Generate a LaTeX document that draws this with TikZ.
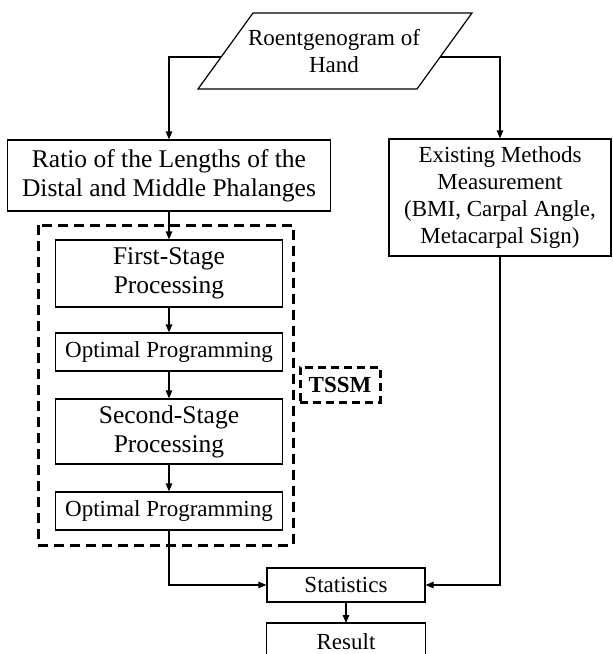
\documentclass[tikz,border=0pt]{standalone}
\usepackage{fontspec}
\setmainfont{Liberation Serif}
\usetikzlibrary{arrows.meta}
\begin{document}
\begin{tikzpicture}[x=1pt,y=-1pt,
  box/.style={draw, line width=1.2pt, inner sep=0pt, align=center},
  big/.style={font=\fontsize{25.5}{29}\selectfont},
  small/.style={font=\fontsize{23}{27}\selectfont},
  dashbox/.style={draw, line width=3pt, dash pattern=on 10pt off 6pt},
  conn/.style={line width=1.2pt},
  arr/.style={conn, -{Triangle[length=8pt,width=6.5pt]}}]
\useasboundingbox (0,0) rectangle (613,654);
\clip (0,0) rectangle (613,654);

% input parallelogram
\draw[conn] (253,13) -- (472,13) -- (417,89) -- (198,89) -- cycle;
\node[small, align=center, inner sep=0pt] (roent) at (334,51) {Roentgenogram of\\Hand};
\coordinate (rl) at (221,57);
\coordinate (rr) at (440,57);

% boxes
\node[box,big,minimum width=323pt,minimum height=71pt] (ratio) at (169,175.5) {Ratio of the Lengths of the\\Distal and Middle Phalanges};
\node[box,small,minimum width=222pt,minimum height=117pt] (exist) at (500,197.5) {Existing Methods\\Measurement\\(BMI, Carpal Angle,\\Metacarpal Sign)};

\draw[dashbox] (38,225) rectangle (293,545);

\node[box,big,minimum width=227pt,minimum height=67pt] (fs) at (169,273.5) {First-Stage\\Processing};
\node[box,small,minimum width=227pt,minimum height=38pt] (op1) at (169,352) {Optimal Programming};
\node[box,big,minimum width=227pt,minimum height=65pt] (ss) at (169,431.5) {Second-Stage\\Processing};
\node[box,small,minimum width=227pt,minimum height=38pt] (op2) at (169,511) {Optimal Programming};

\node[dashbox, dash pattern=on 8pt off 5pt, inner sep=0pt, minimum width=80pt, minimum height=35pt, font=\fontsize{23}{27}\selectfont\bfseries] (tssm) at (340,384.5) {TSSM};

\node[box,small,minimum width=158pt,minimum height=34pt] (stats) at (346,585) {Statistics};
% result box runs past the lower edge, as in the reference
\draw[conn] (266.5,623) rectangle (425.5,675);
\coordinate (resulttop) at (346,623);
\node[small, inner sep=0pt] (result) at (346,642) {Result};

% connectors
\draw[arr] (rl) -| (ratio.north);
\draw[arr] (rr) -| (exist.north);
\draw[arr] (ratio.south) -- (fs.north);
\draw[arr] (fs.south) -- (op1.north);
\draw[arr] (op1.south) -- (ss.north);
\draw[arr] (ss.south) -- (op2.north);
\draw[arr] (op2.south) |- (stats.west);
\draw[arr] (exist.south) |- (stats.east);
\draw[arr] (stats.south) -- (resulttop);
\end{tikzpicture}
\end{document}
